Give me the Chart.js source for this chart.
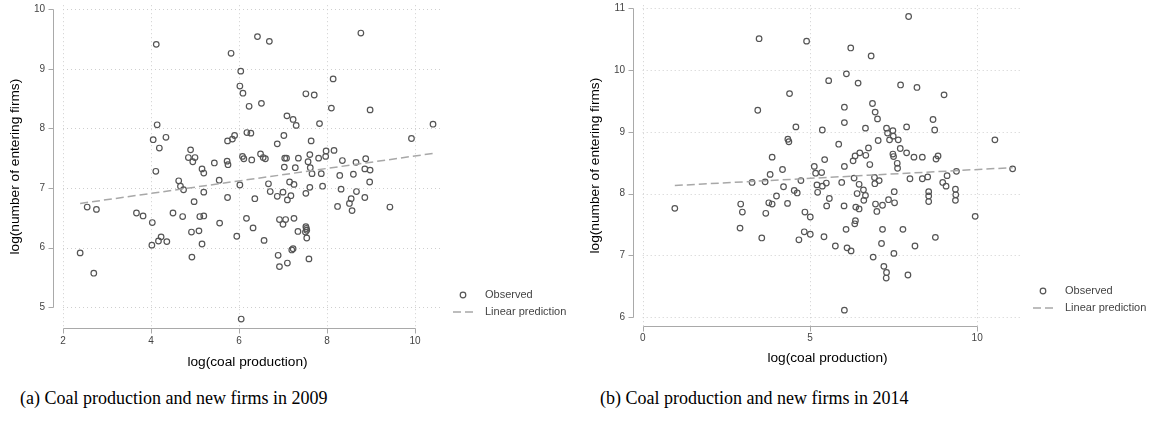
<!DOCTYPE html>
<html>
<head>
<meta charset="utf-8">
<script src="https://cdn.jsdelivr.net/npm/chart.js@4.4.0/dist/chart.umd.min.js"></script>
<style>
  body { margin: 0; background: #fff; width: 1158px; height: 424px; position: relative; overflow: hidden; }
  .box { position: absolute; top: 0; width: 579px; height: 378px; }
  .cap { position: absolute; top: 388px; font-family: "Liberation Serif", "DejaVu Serif", serif; font-size: 18px; color: #000; white-space: nowrap; }
</style>
</head>
<body>
<div class="box" style="left:0"><canvas id="chart2009" width="579" height="378"></canvas></div>
<div class="box" style="left:579px"><canvas id="chart2014" width="579" height="378"></canvas></div>
<div class="cap" style="left:20px">(a) Coal production and new firms in 2009</div>
<div class="cap" style="left:600px">(b) Coal production and new firms in 2014</div>

<script>
// 2009: log(coal production) / log(number of entering firms)
const coal2009 = [4.12, 6.42, 6.69, 5.82, 6.04, 6.02, 6.09, 6.23, 6.51, 7.09, 7.23, 7.30, 4.14, 4.05, 4.19, 4.34, 4.11,
  4.90, 4.85, 5.00, 4.95, 5.16, 5.20, 5.44, 5.73, 5.75, 5.74, 5.85, 5.90, 6.18, 6.27, 6.08, 6.11, 6.29, 6.49, 6.55,
  6.60, 6.87, 7.02, 7.04, 7.08, 7.03, 7.28, 7.35, 4.63, 4.67, 4.74, 5.20, 5.55, 6.02, 6.67, 6.71, 7.15, 7.25, 7.00,
  2.39, 2.55, 2.76, 2.70, 3.67, 3.82, 4.03, 4.02, 4.17, 4.23, 4.36, 4.50, 4.72, 4.98, 4.92, 5.09, 5.11, 5.20, 5.16,
  4.93, 5.74, 5.56, 5.95, 6.05, 6.17, 6.36, 6.32, 6.57, 6.87, 7.10, 7.18, 6.92, 7.06, 7.00, 7.25, 7.34, 6.89, 6.92,
  7.10, 7.20, 7.23, 8.77, 8.14, 7.52, 7.71, 8.10, 8.98, 7.83, 10.41, 9.92, 7.64, 7.98, 8.16, 7.61, 7.81, 7.97, 8.35,
  8.66, 8.88, 7.57, 7.62, 7.66, 7.87, 8.29, 8.60, 8.86, 8.98, 8.97, 7.61, 7.90, 8.32, 8.67, 7.52, 8.55, 8.86, 8.24,
  8.51, 8.57, 9.43, 7.52, 7.53, 7.54, 7.51, 7.54, 7.59];
const firms2009 = [9.41, 9.54, 9.46, 9.26, 8.96, 8.71, 8.59, 8.37, 8.42, 8.21, 8.15, 8.05, 8.06, 7.81, 7.67, 7.85, 7.28,
  7.64, 7.51, 7.51, 7.44, 7.32, 7.25, 7.42, 7.45, 7.39, 7.79, 7.82, 7.88, 7.93, 7.92, 7.53, 7.49, 7.47, 7.57, 7.51,
  7.49, 7.74, 7.88, 7.50, 7.50, 7.35, 7.34, 7.50, 7.12, 7.03, 6.97, 6.93, 7.13, 7.05, 7.07, 6.94, 7.10, 7.06, 6.93,
  5.91, 6.68, 6.64, 5.57, 6.58, 6.53, 6.42, 6.04, 6.11, 6.18, 6.10, 6.58, 6.52, 6.77, 6.26, 6.28, 6.52, 6.53, 6.06,
  5.84, 6.84, 6.41, 6.19, 4.80, 6.49, 6.82, 6.33, 6.12, 6.86, 6.80, 6.87, 6.47, 6.47, 6.39, 6.49, 6.27, 5.87, 5.68,
  5.74, 5.96, 5.98, 9.60, 8.83, 8.58, 8.56, 8.34, 8.31, 8.08, 8.07, 7.83, 7.79, 7.62, 7.63, 7.56, 7.50, 7.53, 7.46,
  7.43, 7.49, 7.44, 7.34, 7.24, 7.24, 7.21, 7.23, 7.32, 7.30, 7.10, 7.01, 7.03, 6.98, 6.94, 6.91, 6.82, 6.84, 6.69,
  6.74, 6.62, 6.68, 6.35, 6.32, 6.29, 6.26, 6.16, 5.81];
const fitX2009 = [2.39, 10.41];
const fitY2009 = [6.74, 7.58];
const xTicks2009 = [2, 4, 6, 8, 10];
const yTicks2009 = [5, 6, 7, 8, 9, 10];

// 2014
const coal2014 = [3.48, 4.90, 6.22, 6.83, 6.09, 5.56, 6.44, 4.39, 3.44, 6.03, 6.87, 6.95, 7.02, 6.03, 4.58, 5.37, 6.66,
  7.04, 4.34, 4.37, 5.86, 6.75, 6.49, 6.35, 6.67, 6.29, 6.79, 3.87, 4.18, 5.44, 6.03, 5.13, 5.17, 5.35, 3.81, 3.27,
  3.66, 4.73, 4.21, 5.21, 5.49, 5.95, 6.32, 6.47, 6.94, 7.07, 6.93, 4.53, 4.62, 5.23, 5.58, 4.00, 6.60, 6.66, 6.41,
  0.96, 2.93, 2.98, 2.91, 3.56, 3.68, 3.77, 3.87, 4.33, 4.85, 5.01, 4.83, 5.01, 4.67, 5.42, 5.50, 5.76, 6.02, 6.03,
  6.08, 6.11, 6.23, 6.34, 6.36, 6.37, 6.47, 6.61, 6.89, 6.96, 7.00, 7.95, 7.71, 8.20, 9.01, 8.68, 8.73, 7.29, 7.32,
  7.48, 7.49, 7.38, 7.64, 7.89, 10.53, 7.70, 7.89, 7.48, 7.50, 8.11, 8.36, 8.83, 8.77, 7.61, 7.62, 11.06, 9.38, 9.10,
  7.99, 8.36, 8.52, 8.97, 9.07, 7.52, 8.55, 8.55, 8.55, 9.35, 9.36, 9.35, 9.94, 7.17, 7.78, 8.75, 7.14, 8.14, 7.51,
  7.21, 7.29, 7.28, 7.93, 7.17, 7.35, 7.53, 5.37];
const firms2014 = [10.51, 10.47, 10.36, 10.23, 9.94, 9.83, 9.79, 9.62, 9.35, 9.40, 9.46, 9.32, 9.21, 9.15, 9.08, 9.03, 9.06,
  8.86, 8.88, 8.84, 8.80, 8.74, 8.66, 8.61, 8.62, 8.53, 8.47, 8.59, 8.39, 8.55, 8.44, 8.44, 8.33, 8.34, 8.31, 8.18,
  8.19, 8.21, 8.11, 8.14, 8.17, 8.18, 8.25, 8.15, 8.16, 8.21, 8.26, 8.05, 8.01, 8.02, 7.92, 7.96, 8.06, 7.97, 8.00,
  7.76, 7.83, 7.70, 7.44, 7.28, 7.68, 7.85, 7.83, 7.84, 7.70, 7.62, 7.38, 7.34, 7.25, 7.30, 7.80, 7.15, 7.80, 6.11,
  7.42, 7.12, 7.07, 7.51, 7.56, 7.78, 7.75, 7.89, 6.97, 7.83, 7.71, 10.87, 9.76, 9.72, 9.60, 9.20, 9.03, 9.06, 8.98,
  9.02, 8.93, 8.87, 8.87, 9.08, 8.87, 8.73, 8.66, 8.64, 8.60, 8.59, 8.59, 8.61, 8.56, 8.49, 8.41, 8.40, 8.36, 8.29,
  8.24, 8.24, 8.27, 8.18, 8.12, 8.03, 8.03, 7.96, 7.87, 8.07, 7.98, 7.89, 7.63, 7.42, 7.42, 7.29, 7.19, 7.15, 7.03,
  6.82, 6.72, 6.63, 6.68, 7.81, 7.90, 7.85, 8.12];
const fitX2014 = [0.96, 11.06];
const fitY2014 = [8.13, 8.42];
const xTicks2014 = [0, 5, 10];
const yTicks2014 = [6, 7, 8, 9, 10, 11];

const legendLabels = ["Observed", "Linear prediction"];
const xTitle = "log(coal production)";
const yTitle = "log(number of entering firms)";

const MARK = "#555555";
const FIT = "#a8a8a8";
const AXIS = "#a9a9a9";
const GRID = "#cfcfcf";

// stata-like axes, grid and legend
const stataLook = {
  id: "stataLook",
  beforeDatasetsDraw(chart, args, opts) {
    const { ctx, chartArea: a, scales: { x, y } } = chart;
    ctx.save();
    ctx.strokeStyle = GRID;
    ctx.lineWidth = 1;
    ctx.setLineDash([1, 3]);
    const gx0 = x.getPixelForValue(opts.xTicks[0]);
    opts.xTicks.forEach(v => {
      const px = Math.round(x.getPixelForValue(v)) + 0.5;
      ctx.beginPath(); ctx.moveTo(px, a.top); ctx.lineTo(px, a.bottom); ctx.stroke();
    });
    opts.yTicks.forEach(v => {
      const py = Math.round(y.getPixelForValue(v)) + 0.5;
      ctx.beginPath(); ctx.moveTo(gx0, py); ctx.lineTo(a.right, py); ctx.stroke();
    });
    ctx.restore();
  },
  afterDraw(chart, args, opts) {
    const { ctx, chartArea: a, scales: { x, y } } = chart;
    ctx.save();
    ctx.strokeStyle = AXIS;
    ctx.lineWidth = 1;
    // x axis
    const ay = Math.round(a.bottom) + 0.5;
    const xs = opts.xTicks.map(v => Math.round(x.getPixelForValue(v)) + 0.5);
    ctx.beginPath(); ctx.moveTo(xs[0], ay); ctx.lineTo(xs[xs.length - 1], ay); ctx.stroke();
    xs.forEach(px => { ctx.beginPath(); ctx.moveTo(px, ay); ctx.lineTo(px, ay + 5); ctx.stroke(); });
    // y axis
    const ax = Math.round(a.left) + 0.5;
    const ys = opts.yTicks.map(v => Math.round(y.getPixelForValue(v)) + 0.5);
    ctx.beginPath(); ctx.moveTo(ax, ys[0]); ctx.lineTo(ax, ys[ys.length - 1]); ctx.stroke();
    ys.forEach(py => { ctx.beginPath(); ctx.moveTo(ax, py); ctx.lineTo(ax - 5, py); ctx.stroke(); });

    // legend
    const lx = a.right + 21, tx = a.right + 43;
    const y1 = a.bottom - opts.legendRise[0], y2 = a.bottom - opts.legendRise[1];
    ctx.strokeStyle = MARK; ctx.lineWidth = 1.2;
    ctx.beginPath(); ctx.arc(lx, y1, 2.8, 0, Math.PI * 2); ctx.stroke();
    ctx.strokeStyle = FIT; ctx.lineWidth = 1.5; ctx.setLineDash([8, 4]);
    ctx.beginPath(); ctx.moveTo(lx - 10, y2); ctx.lineTo(lx + 10, y2); ctx.stroke();
    ctx.setLineDash([]);
    ctx.fillStyle = "#444";
    ctx.font = "11px 'Liberation Sans', Arial, sans-serif";
    ctx.textBaseline = "middle";
    ctx.fillText(legendLabels[0], tx, y1);
    ctx.fillText(legendLabels[1], tx, y2);
    ctx.restore();
  }
};

function makeChart(id, xs, ys, fx, fy, xt, yt, box) {
  const pts = xs.map((v, i) => ({ x: v, y: ys[i] }));
  const fit = fx.map((v, i) => ({ x: v, y: fy[i] }));
  const fixTicks = list => scale => { scale.ticks = list.map(v => ({ value: v })); };
  const noPad = (w, h) => scale => {
    if (w) scale.width = w;
    if (h) scale.height = h;
    scale.paddingTop = scale.paddingBottom = scale.paddingLeft = scale.paddingRight = 0;
  };
  return new Chart(document.getElementById(id), {
    type: "scatter",
    data: {
      datasets: [
        { label: legendLabels[0], data: pts, pointStyle: "circle", pointRadius: 2.8, pointBorderWidth: 1.2,
          pointBorderColor: MARK, pointBackgroundColor: "rgba(0,0,0,0)", order: 2 },
        { label: legendLabels[1], data: fit, showLine: true, pointRadius: 0, borderColor: FIT, borderWidth: 1.5,
          borderDash: [8, 4], fill: false, order: 1 }
      ]
    },
    options: {
      responsive: false,
      animation: false,
      events: [],
      layout: { padding: { top: box.top, right: box.right, left: 0, bottom: 0 } },
      plugins: {
        legend: { display: false },
        tooltip: { enabled: false },
        stataLook: { xTicks: xt, yTicks: yt, legendRise: box.legend }
      },
      scales: {
        x: {
          type: "linear", min: box.xmin, max: box.xmax,
          afterBuildTicks: fixTicks(xt), afterFit: noPad(0, box.xh),
          grid: { display: false, drawTicks: false }, border: { display: false },
          ticks: { padding: box.xpad, color: "#444", font: { family: "'Liberation Sans', Arial, sans-serif", size: 10 } },
          title: { display: true, text: xTitle, color: "#000", padding: { top: 0, bottom: box.xtpad },
                   font: { family: "'Liberation Sans', Arial, sans-serif", size: 13.7 } }
        },
        y: {
          type: "linear", min: box.ymin, max: box.ymax,
          afterBuildTicks: fixTicks(yt), afterFit: noPad(box.yw, 0),
          grid: { display: false, drawTicks: false }, border: { display: false },
          ticks: { padding: 8, color: "#444", font: { family: "'Liberation Sans', Arial, sans-serif", size: 10 } },
          title: { display: true, text: yTitle, color: "#000", padding: { top: box.ytpad, bottom: 0 },
                   font: { family: "'Liberation Sans', Arial, sans-serif", size: 13.7 } }
        }
      }
    },
    plugins: [stataLook]
  });
}

makeChart("chart2009", coal2009, firms2009, fitX2009, fitY2009, xTicks2009, yTicks2009,
  { top: 3, right: 137, xh: 50, yw: 53, xmin: 1.773, xmax: 10.614, ymin: 4.65, ymax: 10.067,
    xpad: 7, xtpad: 7.6, ytpad: 6.6, legend: [33, 16] });
makeChart("chart2014", coal2014, firms2014, fitX2014, fitY2014, xTicks2014, yTicks2014,
  { top: 1, right: 136, xh: 52, yw: 54, xmin: -0.29, xmax: 11.34, ymin: 5.853, ymax: 11.053,
    xpad: 6, xtpad: 11.6, ytpad: 7.6, legend: [35, 18] });
</script>
</body>
</html>
